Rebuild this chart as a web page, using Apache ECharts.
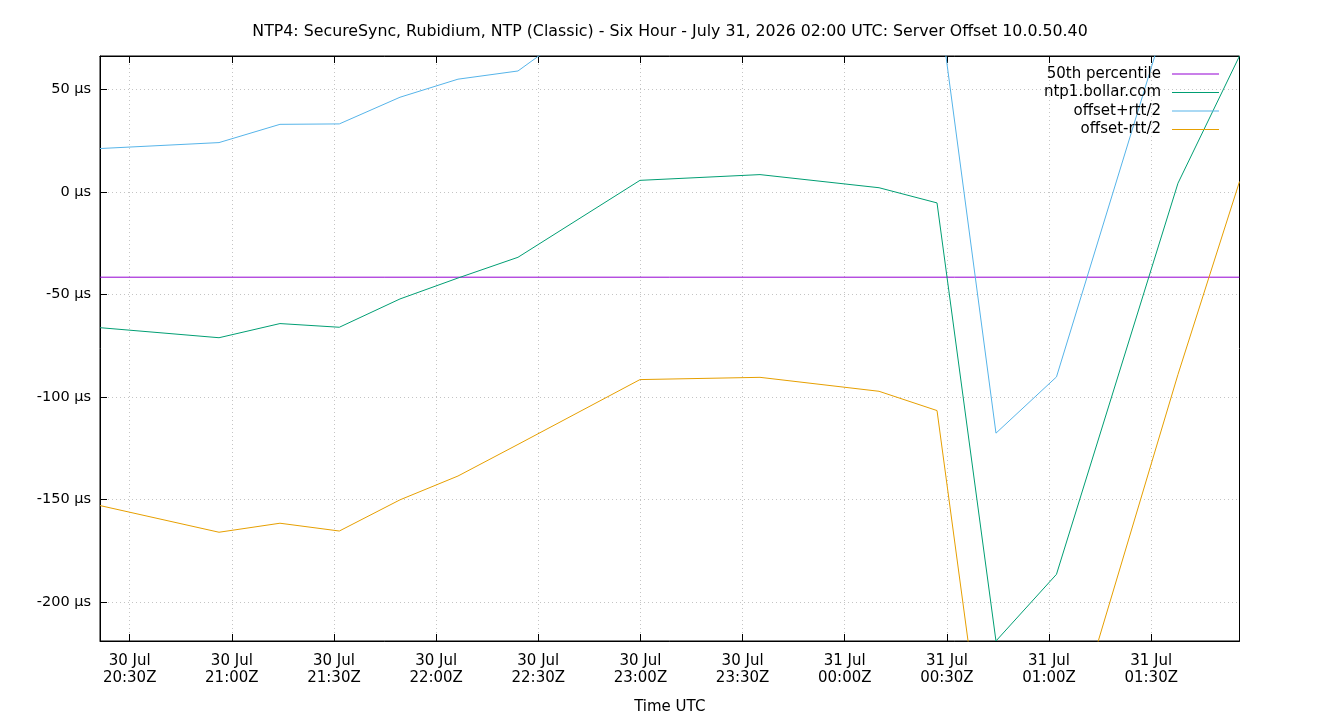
<!DOCTYPE html>
<html lang="en">

<head>
    <meta charset="UTF-8">
    <title>NTP4 Server Offset</title>
    <script src="https://cdn.jsdelivr.net/npm/echarts@6.0.0/dist/echarts.min.js"></script>
    <style>
        html, body { margin: 0; padding: 0; background: #fff; }
        #chart { width: 1340px; height: 720px; }
    </style>
</head>

<body>
    <div id="chart"></div>
    <script>
        // sample times (UTC)
        var sampleTimes = ['2026-07-30T20:21:17Z', '2026-07-30T20:56:14Z', '2026-07-30T21:14:08Z', '2026-07-30T21:31:34Z',
            '2026-07-30T21:49:23Z', '2026-07-30T22:06:25Z', '2026-07-30T22:24:02Z', '2026-07-30T22:59:52Z',
            '2026-07-30T23:35:07Z', '2026-07-31T00:10:04Z', '2026-07-31T00:27:06Z', '2026-07-31T00:44:25Z',
            '2026-07-31T01:02:11Z', '2026-07-31T01:37:52Z', '2026-07-31T01:55:56Z'];
        // offsets in microseconds
        var offset = [-66.2, -71.1, -64.2, -66.0, -52.2, -42.0, -31.9, 5.6, 8.4, 2.0, -5.4, -218.9, -186.4, 4.2, 66.2];
        var offsetPlusRtt = [21.1, 24.0, 32.9, 33.1, 46.1, 54.9, 58.9, 102, 106, 101, 99, -117.6, -90.2, 103, 125];
        var offsetMinusRtt = [-152.9, -165.9, -161.5, -165.3, -150.1, -138.5, -123.1, -91.5, -90.4, -97.2, -106.6, -320, -287, -89, 5];
        var percentile50 = -41.6;

        var xTicks = ['2026-07-30T20:30:00Z', '2026-07-30T21:00:00Z', '2026-07-30T21:30:00Z', '2026-07-30T22:00:00Z',
            '2026-07-30T22:30:00Z', '2026-07-30T23:00:00Z', '2026-07-30T23:30:00Z', '2026-07-31T00:00:00Z',
            '2026-07-31T00:30:00Z', '2026-07-31T01:00:00Z', '2026-07-31T01:30:00Z'];
        var yTicks = [-200, -150, -100, -50, 0, 50];
        var yMin = -218.9, yMax = 66.2;

        var names = ['50th percentile', 'ntp1.bollar.com', 'offset+rtt/2', 'offset-rtt/2'];
        var colors = ['#9400d3', '#009e73', '#56b4e9', '#e69f00'];

        var t = sampleTimes.map(function (s) { return Date.parse(s); });
        var tickMs = xTicks.map(function (s) { return Date.parse(s); });
        var xMin = t[0], xMax = t[t.length - 1];

        function pairs(vals) {
            return vals.map(function (v, i) { return [t[i], v]; });
        }
        function pad(n) { return n < 10 ? '0' + n : '' + n; }
        function timeLabel(v) {
            var d = new Date(v);
            return d.getUTCDate() + ' Jul\n' + pad(d.getUTCHours()) + ':' + pad(d.getUTCMinutes()) + 'Z';
        }

        var font = 'DejaVu Sans';
        var gridLine = { show: true, lineStyle: { color: '#c4c4c4', width: 1, type: [1, 3] } };

        // one legend per entry so the sample lines line up on the right, like gnuplot's key
        var legends = names.map(function (n, i) {
            return {
                data: [n],
                right: 121,
                top: 65 + i * 18.5,
                align: 'right',
                icon: 'rect',
                itemWidth: 47,
                itemHeight: 1,
                selectedMode: false,
                padding: 0,
                textStyle: { fontFamily: font, fontSize: 15, color: '#000', lineHeight: 18, padding: [0, 6, 0, 0] }
            };
        });

        var myChart = echarts.init(document.getElementById('chart'));
        myChart.setOption({
            backgroundColor: '#fff',
            animation: false,
            title: {
                text: 'NTP4: SecureSync, Rubidium, NTP (Classic) - Six Hour - July 31, 2026 02:00 UTC: Server Offset 10.0.50.40',
                left: 'center',
                top: 19,
                textStyle: { fontFamily: font, fontSize: 15.8, fontWeight: 'normal', color: '#000' }
            },
            legend: legends,
            grid: {
                left: 100, right: 100.5, top: 56, bottom: 79,
                show: true, borderColor: '#000', borderWidth: 1
            },
            xAxis: [{
                type: 'value',
                min: xMin,
                max: xMax,
                name: 'Time UTC',
                nameLocation: 'middle',
                nameGap: 59,
                nameTextStyle: { fontFamily: font, fontSize: 15, color: '#000' },
                axisLine: { show: true, onZero: false, lineStyle: { color: '#000' } },
                axisTick: { show: true, inside: true, length: 7, customValues: tickMs, lineStyle: { color: '#000' } },
                axisLabel: {
                    customValues: tickMs, formatter: timeLabel, margin: 12, lineHeight: 17,
                    fontFamily: font, fontSize: 15, color: '#000'
                },
                splitLine: gridLine
            }, {
                type: 'value',
                position: 'top',
                min: xMin,
                max: xMax,
                axisLine: { show: true, onZero: false, lineStyle: { color: '#000' } },
                axisTick: { show: true, inside: true, length: 7, customValues: tickMs, lineStyle: { color: '#000' } },
                axisLabel: { show: false },
                splitLine: { show: false }
            }],
            yAxis: {
                type: 'value',
                min: yMin,
                max: yMax,
                axisLine: { show: true, onZero: false, lineStyle: { color: '#000' } },
                axisTick: { show: true, inside: true, length: 7, customValues: yTicks, lineStyle: { color: '#000' } },
                axisLabel: {
                    customValues: yTicks,
                    formatter: function (v) { return v + ' µs'; },
                    margin: 9, fontFamily: font, fontSize: 14.5, color: '#000'
                },
                splitLine: gridLine
            },
            series: [
                { name: names[0], type: 'line', data: [[xMin, percentile50], [xMax, percentile50]] },
                { name: names[1], type: 'line', data: pairs(offset) },
                { name: names[2], type: 'line', data: pairs(offsetPlusRtt) },
                { name: names[3], type: 'line', data: pairs(offsetMinusRtt) }
            ].map(function (s, i) {
                s.symbol = 'none';
                s.color = colors[i];
                s.lineStyle = { width: 1, color: colors[i] };
                s.clip = true;
                return s;
            })
        });
    </script>
</body>

</html>
